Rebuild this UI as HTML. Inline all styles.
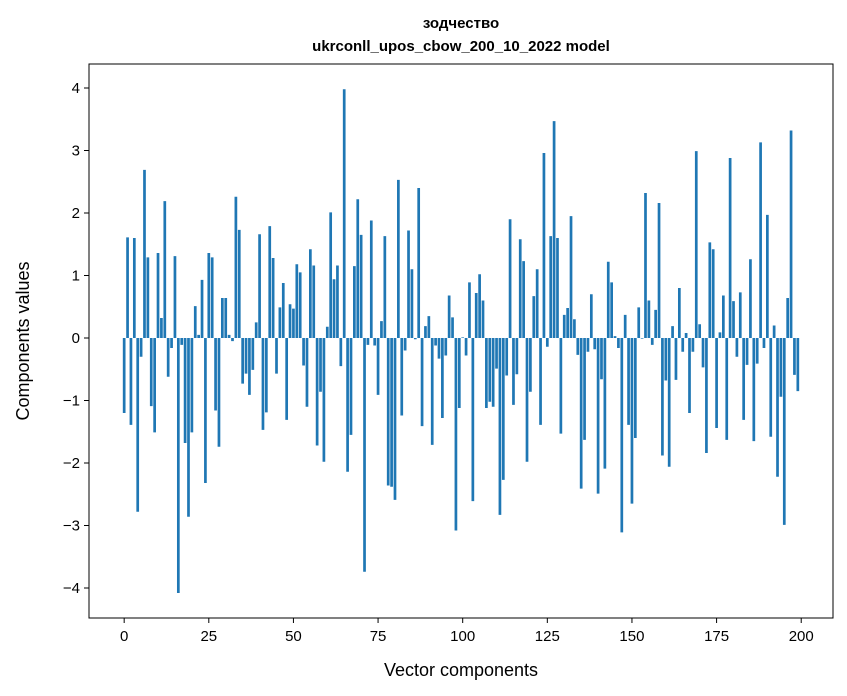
<!DOCTYPE html>
<html><head><meta charset="utf-8"><style>
html,body{margin:0;padding:0;background:#fff;}
svg{display:block;font-family:"Liberation Sans","DejaVu Sans",sans-serif;}
</style></head><body>
<svg id="chart" width="847" height="696" viewBox="0 0 847 696">
<rect width="847" height="696" fill="#fff"/>
<text x="461" y="28" text-anchor="middle" font-size="15" font-weight="bold">зодчество</text>
<text x="461" y="51" text-anchor="middle" font-size="15" font-weight="bold">ukrconll_upos_cbow_200_10_2022 model</text>
<g id="bars"></g>
<g id="xticks"></g>
<g id="yticks"></g>
<rect x="89" y="64" width="744" height="554" fill="none" stroke="#000" stroke-width="1"/>
<text x="461" y="676" text-anchor="middle" font-size="18">Vector components</text>
<text transform="translate(29,341) rotate(-90)" text-anchor="middle" font-size="18">Components values</text>
</svg>
<script>
const values = [-1.20,1.61,-1.39,1.60,-2.78,-0.30,2.69,1.29,-1.09,-1.51,1.36,0.32,2.19,-0.62,-0.16,1.31,-4.08,-0.11,-1.68,-2.86,-1.51,0.51,0.05,0.93,-2.32,1.36,1.29,-1.16,-1.74,0.64,0.64,0.05,-0.05,2.26,1.73,-0.73,-0.57,-0.91,-0.51,0.25,1.66,-1.47,-1.19,1.79,1.28,-0.57,0.49,0.88,-1.31,0.54,0.47,1.18,1.05,-0.44,-1.10,1.42,1.16,-1.72,-0.86,-1.98,0.18,2.01,0.94,1.16,-0.45,3.98,-2.14,-1.55,1.15,2.22,1.65,-3.74,-0.11,1.88,-0.12,-0.91,0.27,1.63,-2.36,-2.38,-2.59,2.53,-1.24,-0.20,1.72,1.10,-0.02,2.40,-1.41,0.19,0.35,-1.71,-0.12,-0.33,-1.28,-0.28,0.68,0.33,-3.08,-1.12,0.01,-0.28,0.89,-2.61,0.72,1.02,0.60,-1.12,-1.02,-1.10,-0.49,-2.83,-2.27,-0.60,1.90,-1.07,-0.58,1.58,1.23,-1.98,-0.86,0.67,1.10,-1.39,2.96,-0.14,1.63,3.47,1.60,-1.53,0.37,0.48,1.95,0.30,-0.27,-2.41,-1.63,-0.22,0.70,-0.18,-2.49,-0.66,-2.09,1.22,0.89,0.03,-0.16,-3.11,0.37,-1.39,-2.65,-1.60,0.49,-0.01,2.32,0.60,-0.11,0.45,2.16,-1.88,-0.68,-2.06,0.19,-0.67,0.80,-0.22,0.08,-1.20,-0.22,2.99,0.22,-0.47,-1.84,1.53,1.42,-1.44,0.09,0.68,-1.63,2.88,0.59,-0.30,0.73,-1.31,-0.43,1.26,-1.65,-0.41,3.13,-0.16,1.97,-1.58,0.20,-2.22,-0.94,-2.99,0.64,3.32,-0.59,-0.85];
const xTickLabels = ["0","25","50","75","100","125","150","175","200"];
const yTickLabels = ["−4","−3","−2","−1","0","1","2","3","4"];
const NS="http://www.w3.org/2000/svg";
const PL=89,PR=833,PT=64,PB=618;
const xMin=-10.39,xMax=209.39,yMin=-4.48,yMax=4.384;
function xs(v){return PL+(v-xMin)/(xMax-xMin)*(PR-PL);}
function ys(v){return PT+(yMax-v)/(yMax-yMin)*(PB-PT);}
const bars=document.getElementById('bars');
values.forEach((v,i)=>{
  const r=document.createElementNS(NS,'rect');
  
  
  const x0=xs(i-0.4),x1=xs(i+0.4);
  const y0=ys(Math.max(v,0)),y1=ys(Math.min(v,0));
  r.setAttribute('x',x0);r.setAttribute('width',x1-x0);
  r.setAttribute('y',y0);r.setAttribute('height',Math.max(y1-y0,0.3));
  r.setAttribute('fill','#1f77b4');
  bars.appendChild(r);
});
const xg=document.getElementById('xticks');
xTickLabels.forEach(l=>{
  const v=parseFloat(l),x=xs(v);
  const t=document.createElementNS(NS,'line');
  
  
  t.setAttribute('x1',x);t.setAttribute('x2',x);t.setAttribute('y1',PB);t.setAttribute('y2',PB+5);t.setAttribute('stroke','#000');
  xg.appendChild(t);
  const tx=document.createElementNS(NS,'text');
  
  
  tx.setAttribute('x',x);tx.setAttribute('y',PB+23);tx.setAttribute('text-anchor','middle');tx.setAttribute('font-size','15');
  tx.textContent=l;xg.appendChild(tx);
});
const yg=document.getElementById('yticks');
yTickLabels.forEach(l=>{
  const v=parseFloat(l.replace('−','-')),y=ys(v);
  const t=document.createElementNS(NS,'line');
  
  
  t.setAttribute('x1',PL-5);t.setAttribute('x2',PL);t.setAttribute('y1',y);t.setAttribute('y2',y);t.setAttribute('stroke','#000');
  yg.appendChild(t);
  const tx=document.createElementNS(NS,'text');
  
  
  tx.setAttribute('x',PL-9);tx.setAttribute('y',y+5);tx.setAttribute('text-anchor','end');tx.setAttribute('font-size','15');
  tx.textContent=l;yg.appendChild(tx);
});
</script>
</body></html>
